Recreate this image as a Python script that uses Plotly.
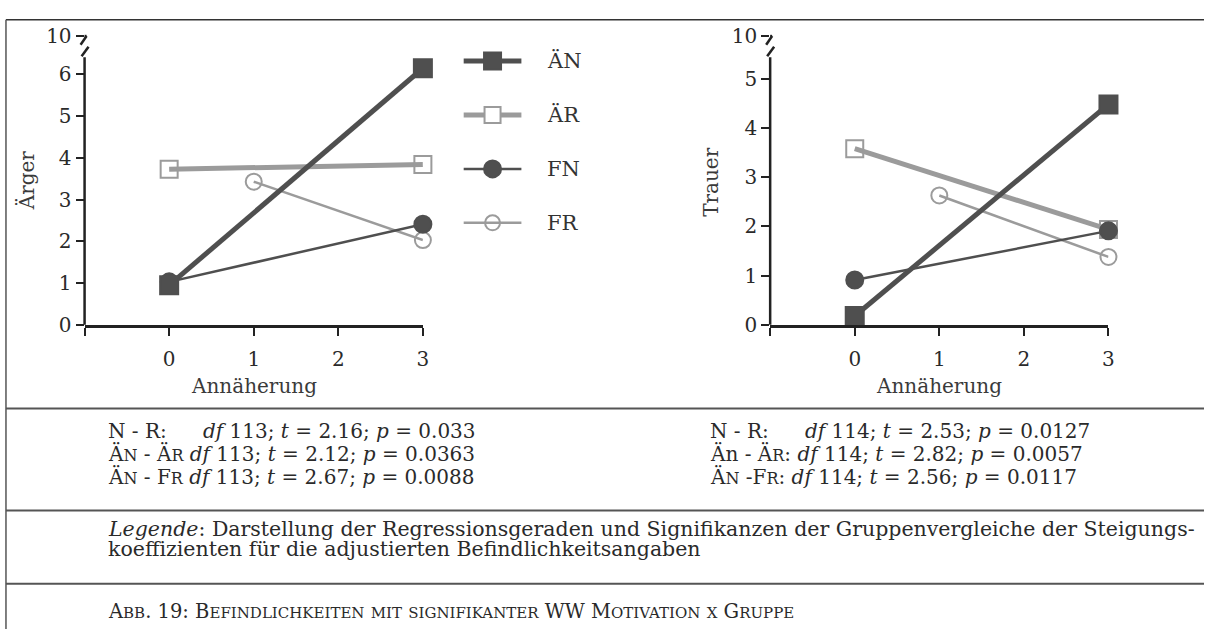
import plotly.graph_objects as go

W, H = 1210, 641
FONT = "DejaVu Serif"

# ---- data: regression line end points (Annäherung -> adjusted mood) ----
groups = ["ÄN", "ÄR", "FN", "FR"]
x_AN = [0, 3]
x_AR = [0, 3]
x_FN = [0, 3]
x_FR = [1, 3]

aerger_AN = [0.95, 6.15]
aerger_AR = [3.73, 3.84]
aerger_FN = [1.03, 2.41]
aerger_FR = [3.43, 2.03]

trauer_AN = [0.18, 4.48]
trauer_AR = [3.58, 1.94]
trauer_FN = [0.91, 1.91]
trauer_FR = [2.63, 1.38]

x_tickvals = [-1, 0, 1, 2, 3]
x_ticktext = ["", "0", "1", "2", "3"]
aerger_tickvals = [0, 1, 2, 3, 4, 5, 6]
trauer_tickvals = [0, 1, 2, 3, 4, 5]
break_label = "10"


# ---- layout helpers (pixel -> paper) ----
def px(x):
    return x / W


def py(y):
    return 1 - y / H


# panel frames in pixels; ytop is where the broken axis shows "10"
PANEL_L = dict(x0=85, x1=425, top=25, bottom=325, ytop=6.92)
PANEL_R = dict(x0=774, x1=1114, top=25, bottom=325, ytop=5.87)

series_x = {"ÄN": x_AN, "ÄR": x_AR, "FN": x_FN, "FR": x_FR}
aerger = {"ÄN": aerger_AN, "ÄR": aerger_AR, "FN": aerger_FN, "FR": aerger_FR}
trauer = {"ÄN": trauer_AN, "ÄR": trauer_AR, "FN": trauer_FN, "FR": trauer_FR}

DARK = "#4f4f4f"
LIGHT = "#9b9b9b"
style = {
    "ÄN": dict(color=DARK, width=5, symbol="square", size=18),
    "ÄR": dict(color=LIGHT, width=5, symbol="square-open", size=17),
    "FN": dict(color=DARK, width=2.5, symbol="circle", size=17),
    "FR": dict(color=LIGHT, width=2.5, symbol="circle-open", size=16),
}
draw_order = ["ÄR", "FR", "FN", "ÄN"]

fig = go.Figure()

for values, xa, ya in [(aerger, "x", "y"), (trauer, "x2", "y2")]:
    for g in draw_order:
        s = style[g]
        fig.add_trace(go.Scatter(
            x=series_x[g], y=values[g], xaxis=xa, yaxis=ya,
            mode="lines+markers", cliponaxis=False, showlegend=False,
            line=dict(color=s["color"], width=s["width"]),
            marker=dict(symbol=s["symbol"], size=s["size"], color=s["color"],
                        line=dict(color=s["color"], width=2)),
            hoverinfo="skip",
        ))

# ---- key (drawn on a hidden pixel-scaled axis) ----
key_rows = [51, 107, 163, 219]
key_style = {
    "ÄN": dict(color=DARK, width=5, symbol="square", size=17, fill=DARK),
    "ÄR": dict(color=LIGHT, width=5, symbol="square", size=16, fill="white"),
    "FN": dict(color=DARK, width=2.5, symbol="circle", size=17, fill=DARK),
    "FR": dict(color=LIGHT, width=2.5, symbol="circle-open", size=15, fill=LIGHT),
}
for g, yk in zip(groups, key_rows):
    s = key_style[g]
    fig.add_trace(go.Scatter(
        x=[466, 524], y=[yk, yk], xaxis="x3", yaxis="y3", mode="lines",
        line=dict(color=s["color"], width=s["width"]), showlegend=False, hoverinfo="skip"))
    fig.add_trace(go.Scatter(
        x=[495], y=[yk], xaxis="x3", yaxis="y3", mode="markers",
        marker=dict(symbol=s["symbol"], size=s["size"], color=s["fill"],
                    line=dict(color=s["color"], width=2)),
        showlegend=False, hoverinfo="skip", cliponaxis=False))

AX = "#222222"
TEXT = "#2a2a2a"
TICKFONT = dict(family=FONT, size=20, color=TEXT)


def xaxis_cfg(p, anchor):
    return dict(domain=[px(p["x0"]), px(p["x1"])], range=[-1, 3], anchor=anchor,
                tickvals=x_tickvals, ticktext=x_ticktext, ticks="outside",
                ticklen=8, tickwidth=2, tickcolor=AX, showline=True,
                linecolor=AX, linewidth=2.5, showgrid=False, zeroline=False,
                tickfont=TICKFONT, ticklabelstandoff=6, fixedrange=True)


def yaxis_cfg(p, tickvals, anchor):
    return dict(domain=[py(p["bottom"]), py(p["top"])], range=[0, p["ytop"]],
                tickvals=tickvals + [p["ytop"]],
                ticktext=[str(v) for v in tickvals] + [break_label],
                ticks="outside", ticklen=8, tickwidth=2, tickcolor=AX,
                showline=False, showgrid=False, zeroline=False,
                tickfont=TICKFONT, anchor=anchor, fixedrange=True)


shapes = []
# broken y axis: stub below the "10" tick, two slashes, then the axis proper
for p in (PANEL_L, PANEL_R):
    ax = p["x0"]
    line = dict(color=AX, width=2.5)
    shapes.append(dict(type="line", xref="paper", yref="paper",
                       x0=px(ax), x1=px(ax), y0=py(p["bottom"]), y1=py(47), line=line))
    shapes.append(dict(type="line", xref="paper", yref="paper",
                       x0=px(ax), x1=px(ax + 2), y0=py(25), y1=py(25), line=line))
    shapes.append(dict(type="line", xref="paper", yref="paper",
                       x0=px(ax + 2), x1=px(ax - 4), y0=py(25), y1=py(34), line=line))
    shapes.append(dict(type="line", xref="paper", yref="paper",
                       x0=px(ax + 4), x1=px(ax - 3), y0=py(36), y1=py(46), line=line))

# frame lines of the figure panel
RULE = "#555555"
shapes.append(dict(type="line", xref="paper", yref="paper", x0=px(6), x1=1,
                   y0=py(8), y1=py(8), line=dict(color="#333333", width=1.5)))
shapes.append(dict(type="line", xref="paper", yref="paper", x0=px(6), x1=px(6),
                   y0=py(8), y1=0, line=dict(color=RULE, width=1.5)))
for yr in (412, 518, 594):
    shapes.append(dict(type="line", xref="paper", yref="paper", x0=px(6), x1=1,
                       y0=py(yr), y1=py(yr), line=dict(color=RULE, width=2)))


def small_caps(text, small):
    out, buf = [], ""
    for ch in text:
        if ch.islower():
            buf += ch.upper()
        else:
            if buf:
                out.append(f"<span style='font-size:{small}px'>{buf}</span>")
                buf = ""
            out.append(ch)
    if buf:
        out.append(f"<span style='font-size:{small}px'>{buf}</span>")
    return "".join(out)


def note(x, y, text, size=20, anchor="left", angle=0, color=TEXT):
    return dict(x=px(x), y=py(y), xref="paper", yref="paper", text=text,
                showarrow=False, xanchor=anchor, yanchor="middle", textangle=angle,
                font=dict(family=FONT, size=size, color=color))


annotations = []
# axis titles
annotations.append(note(255, 389, "Annäherung", size=20, anchor="center", color="#3a3a3a"))
annotations.append(note(944, 389, "Annäherung", size=20, anchor="center", color="#3a3a3a"))
annotations.append(note(28, 175, "Ärger", size=20, anchor="center", angle=-90, color="#3a3a3a"))
annotations.append(note(715, 176, "Trauer", size=20, anchor="center", angle=-90, color="#3a3a3a"))
# key labels
for g, yk in zip(groups, key_rows):
    annotations.append(note(548, yk, g, size=21, color="#333333"))

# slope comparison statistics
SC = 16
left_stats = [
    ("N - R:", "<i>df</i> 113; <i>t</i> = 2.16; <i>p</i> = 0.033"),
    (small_caps("Än - Är", SC) + " <i>df</i> 113; <i>t</i> = 2.12; <i>p</i> = 0.0363", None),
    (small_caps("Än - Fr", SC) + " <i>df</i> 113; <i>t</i> = 2.67; <i>p</i> = 0.0088", None),
]
right_stats = [
    ("N - R:", "<i>df</i> 114; <i>t</i> = 2.53; <i>p</i> = 0.0127"),
    ("Än - " + small_caps("Är", SC) + ": <i>df</i> 114; <i>t</i> = 2.82; <i>p</i> = 0.0057", None),
    (small_caps("Än -Fr", SC) + ": <i>df</i> 114; <i>t</i> = 2.56; <i>p</i> = 0.0117", None),
]
rows_y = [435, 459, 483]
for x0, stats in ((107, left_stats), (712, right_stats)):
    for (head, tail), yy in zip(stats, rows_y):
        annotations.append(note(x0, yy, head, size=20))
        if tail:
            annotations.append(note(x0 + 95, yy, tail, size=20))

annotations.append(note(107, 537, "<i>Legende</i>: Darstellung der Regressionsgeraden und "
                        "Signifikanzen der Gruppenvergleiche der Steigungs-", size=20.5))
annotations.append(note(107, 558, "koeffizienten für die adjustierten Befindlichkeitsangaben",
                        size=20.5))
annotations.append(note(107, 623, small_caps(
    "Abb. 19: Befindlichkeiten mit signifikanter WW Motivation x Gruppe", 15), size=19.5))

fig.update_layout(
    width=W, height=H, margin=dict(l=0, r=0, t=0, b=0),
    paper_bgcolor="white", plot_bgcolor="white",
    font=dict(family=FONT, color=TEXT),
    xaxis=xaxis_cfg(PANEL_L, "y"),
    yaxis=yaxis_cfg(PANEL_L, aerger_tickvals, "x"),
    xaxis2=xaxis_cfg(PANEL_R, "y2"),
    yaxis2=yaxis_cfg(PANEL_R, trauer_tickvals, "x2"),
    xaxis3=dict(domain=[px(440), px(640)], range=[440, 640], visible=False,
                anchor="y3", fixedrange=True),
    yaxis3=dict(domain=[py(240), py(20)], range=[240, 20], visible=False,
                anchor="x3", fixedrange=True),
    shapes=shapes, annotations=annotations, showlegend=False,
)

fig.write_html("out.html")
